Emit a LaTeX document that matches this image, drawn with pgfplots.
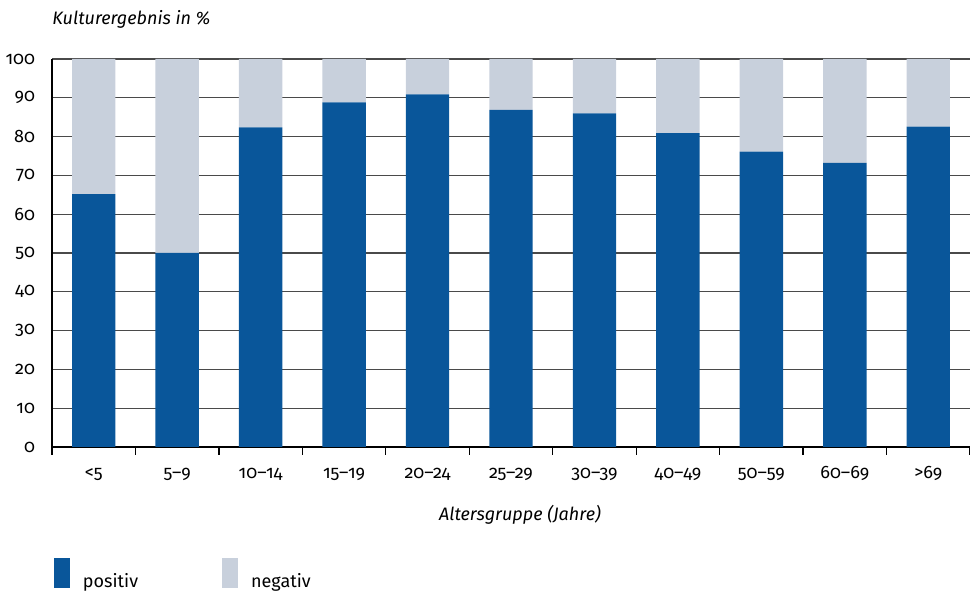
\documentclass[border=0pt]{standalone}
\usepackage{fontspec}
\setmainfont{Fira Sans}[Numbers=OldStyle]
\usepackage{pgfplots}
\pgfplotsset{compat=1.18}
\definecolor{posblue}{HTML}{09569A}
\definecolor{neggray}{HTML}{C8D0DC}
\definecolor{gridgray}{HTML}{4A4A4A}

\begin{document}
\begin{tikzpicture}
\useasboundingbox (-26pt,-73pt) rectangle (459pt,223.5pt);
\begin{axis}[
    scale only axis,
    width=459pt, height=194pt,
    ybar stacked,
    bar width=0.52,
    xmin=-0.5, xmax=10.5,
    ymin=0, ymax=100,
    axis x line*=bottom, axis y line*=left,
    axis line style={-, black, line width=0.7pt},
    ytick={0,10,...,100},
    ymajorgrids,
    major grid style={gridgray, line width=0.55pt},
    ytick style={draw=none},
    xtick={-0.5,0.5,...,10.5},
    xticklabels={},
    tick align=outside,
    major tick length=4pt,
    x tick style={black, line width=0.6pt},
    extra x ticks={0,1,...,10},
    extra x tick labels={<5,5--9,10--14,15--19,20--24,25--29,30--39,40--49,50--59,60--69,>69},
    extra x tick style={major tick length=0pt, xticklabel style={anchor=base, yshift=-16pt}},
    /pgf/number format/assume math mode=true,
    tick label style={font=\fontsize{9}{10}\selectfont},
    yticklabel style={xshift=-1pt},
    xlabel={Altersgruppe (Jahre)},
    xlabel style={at={(axis description cs:0.5,0)}, anchor=center, yshift=-34pt, xshift=4.5pt, font=\fontsize{9}{11}\selectfont\itshape},
    legend columns=2,
    area legend,
    legend image code/.code={\fill[#1] (0pt,-3pt) rectangle (8pt,12pt);},
    legend style={draw=none, fill=none, inner sep=0pt, outer sep=0pt,
        at={(axis description cs:0,0)}, anchor=north west, xshift=1pt, yshift=-55.5pt,
        font=\fontsize{9}{11}\selectfont,
        /tikz/every odd column/.append style={column sep=4.5pt},
        /tikz/every even column/.append style={column sep=40pt}},
]
\addplot[fill=posblue, draw=none] coordinates {
    (0,65.2) (1,50.0) (2,82.4) (3,88.8) (4,90.9) (5,86.9) (6,86.0) (7,80.9) (8,76.1) (9,73.2) (10,82.6)};
\addplot[fill=neggray, draw=none] coordinates {
    (0,34.8) (1,50.0) (2,17.6) (3,11.2) (4,9.1) (5,13.1) (6,14.0) (7,19.1) (8,23.9) (9,26.8) (10,17.4)};
\legend{positiv, negativ}
\end{axis}
\node[anchor=base west, inner sep=0pt, font=\fontsize{9}{11}\selectfont\itshape] at (0pt,211pt) {Kulturergebnis in \%};
\end{tikzpicture}
\end{document}
